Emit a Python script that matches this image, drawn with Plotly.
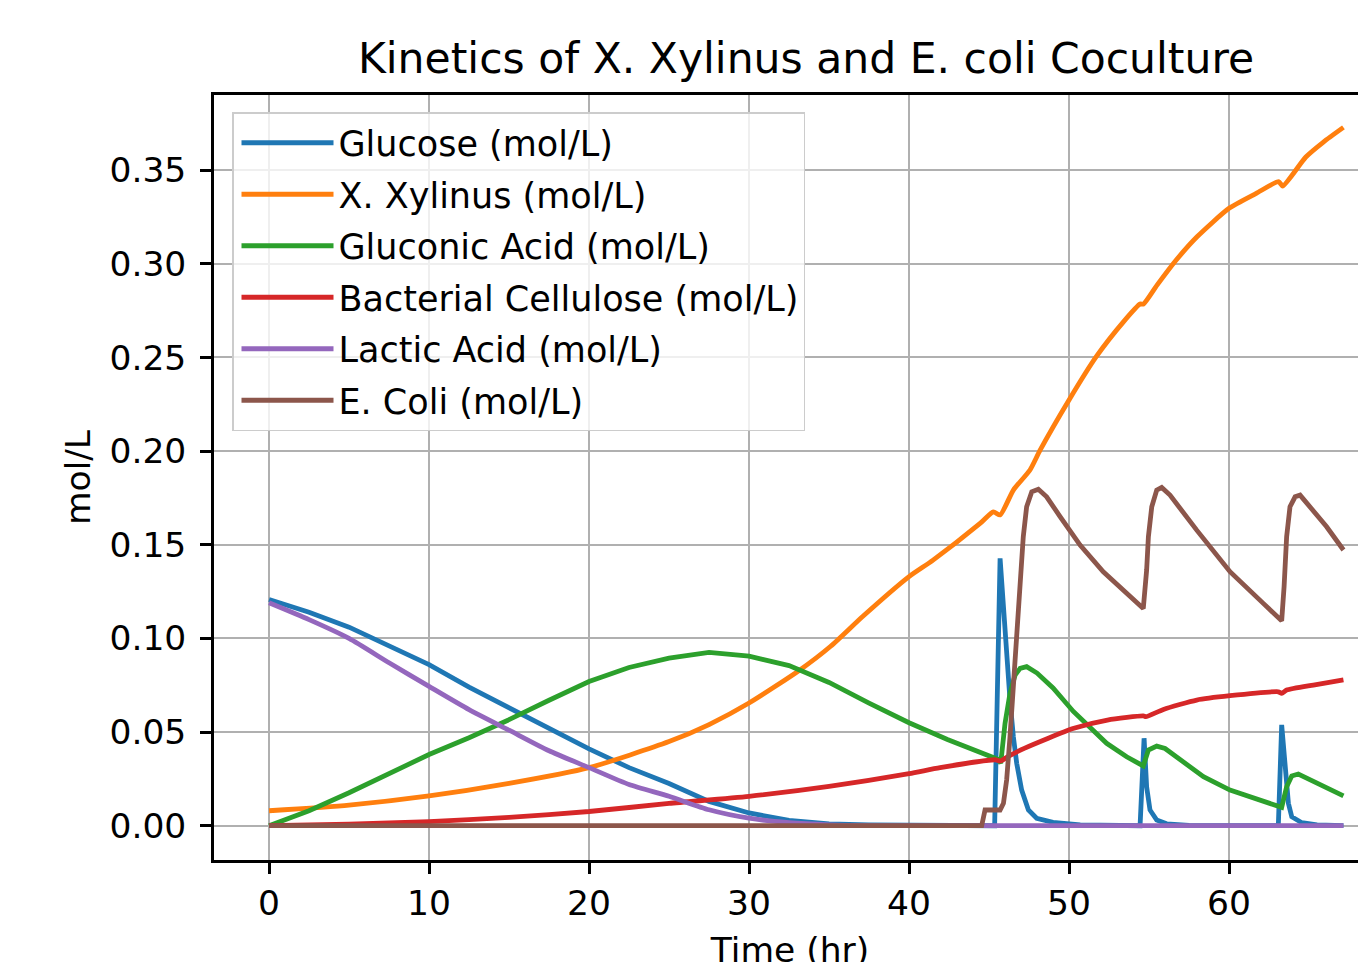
import plotly.graph_objects as go

# ---------------- data ----------------
t_glucose = [0, 2.5, 5, 7.5, 10, 12.5, 15, 17.5, 20, 22.5, 25, 27.5, 30, 32.5, 35, 37.5, 40,
             45.2, 45.35, 45.69, 45.9, 46.1, 46.31, 46.52, 46.73, 47.04, 47.46, 47.98, 49.0, 50.7,
             54.3, 54.44, 54.69, 54.85, 55.06, 55.48, 56.1, 57.5,
             62.9, 63.08, 63.29, 63.5, 63.71, 63.92, 64.55, 65.5, 67.15]
glucose = [0.1208, 0.114, 0.106, 0.096, 0.086, 0.074, 0.063, 0.052, 0.041, 0.031, 0.0225, 0.013,
           0.0068, 0.0028, 0.001, 0.0004, 0.0001,
           0.0, 0.0, 0.1427, 0.1151, 0.0902, 0.0671, 0.0475, 0.0333, 0.019, 0.0084, 0.004, 0.0018,
           0.0005,
           0.0, 0.0, 0.0467, 0.0208, 0.0084, 0.003, 0.001, 0.0002,
           0.0, 0.0, 0.0538, 0.0297, 0.012, 0.0048, 0.0016, 0.0004, 0.0001]

t_xylinus = [0, 5, 10, 15, 20, 25, 27.5, 30, 33.2, 35.1, 37.1, 40, 41.5, 44.44, 45.27, 45.69,
             46.52, 47.56, 48.2, 50, 51.7, 53.4, 54.44, 54.65, 55.5, 56.7, 58, 60, 61.7, 63.1,
             63.35, 64.8, 65.9, 67.15]
xylinus = [0.008, 0.011, 0.0159, 0.0226, 0.031, 0.0449, 0.054, 0.0655, 0.0833, 0.0958, 0.1117,
           0.133, 0.1418, 0.1614, 0.1676, 0.1659,
           0.1792, 0.1899, 0.2006, 0.2273, 0.2504, 0.269, 0.2785, 0.2785, 0.2886, 0.302, 0.3144,
           0.3296, 0.3376, 0.3438, 0.3415, 0.357, 0.365, 0.3728]

t_gluconic = [0, 2.5, 5, 7.5, 10, 12.5, 15, 17.5, 20, 22.5, 25, 27.5, 30, 32.5, 35, 37.5, 40,
              42.4, 44.44, 45.58, 45.73, 46.0, 46.31, 46.63, 46.94, 47.35, 48.0, 49.0, 50.27,
              51.3, 52.35, 53.6, 54.64, 54.96, 55.48, 56.0, 56.94, 58.4, 60.06, 62.14, 63.29,
              63.6, 63.92, 64.33, 65.06, 67.15]
gluconic = [0.0, 0.008, 0.0176, 0.028, 0.038, 0.047, 0.0566, 0.067, 0.077, 0.0845, 0.0895,
            0.0925, 0.0905, 0.0855, 0.0765, 0.0655, 0.055,
            0.046, 0.0395, 0.0354, 0.0333, 0.0547, 0.0707, 0.0804, 0.084, 0.0849, 0.0815, 0.0735,
            0.061, 0.0528, 0.044, 0.0368, 0.0319, 0.0404, 0.0425, 0.0412, 0.0351, 0.0262, 0.019,
            0.0128, 0.0098, 0.0208, 0.0265, 0.0276, 0.0244, 0.0159]

t_cellulose = [0, 5, 10, 15, 20, 25, 30, 35, 40, 41.94, 45.41, 45.69, 46.2, 47.2, 50.3, 52.4,
               54.64, 54.8, 55.9, 57.98, 60.06, 63.08, 63.29, 63.6, 65.27, 67.15]
cellulose = [0.0, 0.0008, 0.0022, 0.0045, 0.0076, 0.0119, 0.0157, 0.021, 0.0278, 0.031, 0.0352,
             0.0345, 0.037, 0.0413, 0.052, 0.0564, 0.0586, 0.0582, 0.0621, 0.0671, 0.0694,
             0.0715, 0.0707, 0.0724, 0.0751, 0.0778]

t_lactic = [0, 2.5, 5, 7.5, 10, 12.5, 15, 17.5, 20, 22.5, 25, 27.5, 30, 32.5, 35, 37.5, 40, 67.15]
lactic = [0.119, 0.110, 0.100, 0.087, 0.0744, 0.062, 0.051, 0.040, 0.031, 0.022, 0.0157, 0.0085,
          0.004, 0.0016, 0.0005, 0.0001, 0.0, 0.0]

t_ecoli = [0, 44.54, 44.75, 45.69, 45.9, 46.1, 46.31, 46.52, 46.73, 46.94, 47.14, 47.35, 47.67,
           48.08, 48.6, 49.44, 50.69, 52.14, 53.39, 54.64, 54.85, 54.96, 55.17, 55.48, 55.79,
           56.31, 57.98, 60.06, 62.14, 63.29, 63.44, 63.6, 63.81, 64.13, 64.44, 65.06, 66.1,
           67.15]
ecoli = [0.0, 0.0, 0.0084, 0.0084, 0.012, 0.0244, 0.0475, 0.0742, 0.1045, 0.1312, 0.1543,
         0.1703, 0.1783, 0.1796, 0.1756, 0.165, 0.1498, 0.1356, 0.1258, 0.116, 0.1365, 0.1543,
         0.1703, 0.1792, 0.1806, 0.1765, 0.1578, 0.1356, 0.1187, 0.1094, 0.1276, 0.1543, 0.1703,
         0.1756, 0.1765, 0.1703, 0.1596, 0.1472]

series_names = ["Glucose (mol/L)", "X. Xylinus (mol/L)", "Gluconic Acid (mol/L)",
                "Bacterial Cellulose (mol/L)", "Lactic Acid (mol/L)", "E. Coli (mol/L)"]
series_t = [t_glucose, t_xylinus, t_gluconic, t_cellulose, t_lactic, t_ecoli]
series_v = [glucose, xylinus, gluconic, cellulose, lactic, ecoli]
colors = ["#1f77b4", "#ff7f0e", "#2ca02c", "#d62728", "#9467bd", "#8c564b"]
shapes = ["linear", "spline", "linear", "spline", "spline", "linear"]

x_ticks = [0, 10, 20, 30, 40, 50, 60]
y_ticks = [0.00, 0.05, 0.10, 0.15, 0.20, 0.25, 0.30, 0.35]

FONT = "DejaVu Sans"

fig = go.Figure()
for name, tt, vv, c, sh in zip(series_names, series_t, series_v, colors, shapes):
    line = dict(color=c, width=4.8, shape=sh)
    if sh == "spline":
        line["smoothing"] = 0.6
    fig.add_trace(go.Scatter(x=tt, y=vv, mode="lines", name=name, legendgroup=name, line=line))

axis_common = dict(
    showgrid=True, gridcolor="#b0b0b0", gridwidth=2.2, zeroline=False,
    showline=True, linecolor="black", linewidth=2.6,
    ticks="outside", ticklen=11, tickwidth=2.6, tickcolor="black",
    tickfont=dict(family=FONT, size=34.5, color="black"),
    automargin=False,
)

# the page body has an 8px default margin: figure is sized/offset to compensate.
# The figure is allowed to run past the bottom of the window, so the x-axis title is
# clipped by the window edge as in the reference.
W, H, OFF = 1358, 962, 8

fig.update_layout(
    width=W, height=H,
    margin=dict(l=214 - OFF, r=0, t=95 - OFF, b=H + OFF - 860),
    paper_bgcolor="white", plot_bgcolor="white",
    font=dict(family=FONT, color="black"),
    title=dict(text="Kinetics of X. Xylinus and E. coli Coculture",
               font=dict(family=FONT, size=42.5, color="black"),
               x=(806 - OFF) / W, xanchor="center", y=1 - (58 - OFF) / H, yanchor="middle"),
    xaxis=dict(range=[-3.44, 68.56], tickvals=x_ticks, ticktext=[str(v) for v in x_ticks],
               mirror=True, ticklabelstandoff=0,
               title=dict(text="Time (hr)", font=dict(family=FONT, size=34.5), standoff=21),
               **axis_common),
    yaxis=dict(range=[-0.0183, 0.3901], tickvals=y_ticks,
               ticktext=["%.2f" % v for v in y_ticks],
               ticklabelstandoff=7,
               title=dict(text="mol/L", font=dict(family=FONT, size=34.5), standoff=9),
               **axis_common),
    legend=dict(x=(232 - 214) / 1152, y=(860 - 112) / 765, xanchor="left", yanchor="top",
                bgcolor="rgba(255,255,255,0.8)", bordercolor="#cccccc", borderwidth=1.5,
                font=dict(family=FONT, size=35, color="black"),
                tracegroupgap=3, traceorder="grouped", itemwidth=92, indentation=3),
    showlegend=True,
)

fig.write_html("out.html")
